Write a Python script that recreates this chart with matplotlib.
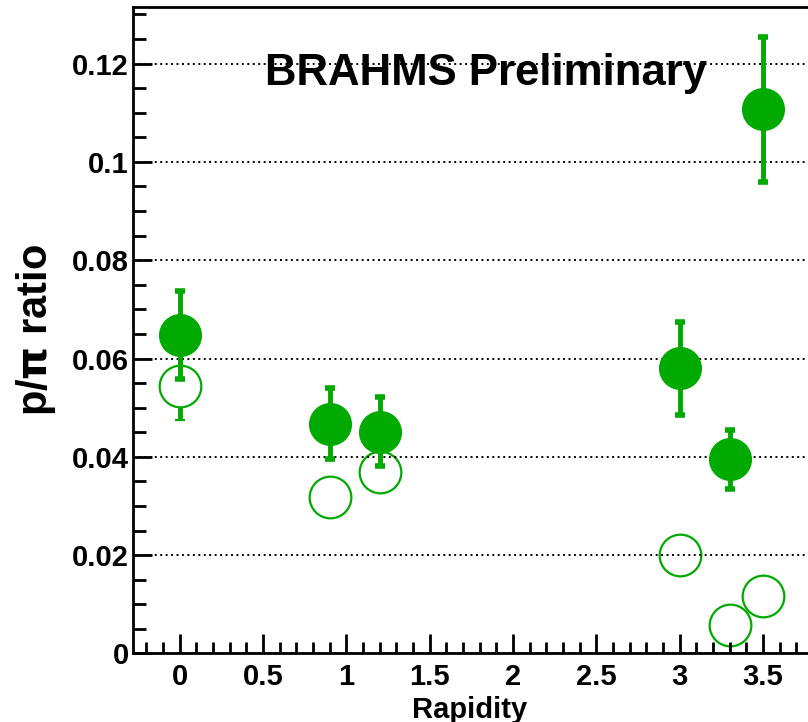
import matplotlib
matplotlib.use("Agg")
import matplotlib.pyplot as plt
from matplotlib.ticker import MultipleLocator, FormatStrFormatter

# p/pi ratio vs rapidity
rapidity = [0.0, 0.9, 1.2, 3.0, 3.3, 3.5]
ratio_full = [0.0648, 0.0467, 0.0451, 0.0580, 0.0395, 0.1107]
err_full = [0.0090, 0.0072, 0.0070, 0.0094, 0.0060, 0.0147]
ratio_open = [0.0544, 0.0318, 0.0369, 0.0200, 0.0058, 0.0116]
err_open = [0.0070, 0.0030, 0.0030, 0.0030, 0.0020, 0.0030]

green = "#00aa00"
plt.rcParams['font.family'] = ['Liberation Sans', 'DejaVu Sans']
plt.rcParams['font.weight'] = 'bold'

fig = plt.figure(figsize=(8.08, 7.22), dpi=100)
# frame runs past the right edge of the canvas
ax = fig.add_axes([0.1646, 0.0949, 0.8787, 0.8954])

# open points under the grid, filled ones above it
ax.errorbar(rapidity, ratio_open, yerr=err_open, fmt='o', color=green,
            markersize=30, markerfacecolor='white', markeredgecolor=green,
            markeredgewidth=1.6, elinewidth=3.5, capsize=3.5, capthick=4,
            zorder=1)
ax.errorbar(rapidity, ratio_full, yerr=err_full, fmt='o', color=green,
            markersize=30, markeredgecolor=green, elinewidth=3.5,
            capsize=3.5, capthick=4, zorder=3)

ax.set_xlim(-0.28, 3.98)
ax.set_ylim(0, 0.1315)
ax.set_axisbelow('line')
ax.yaxis.grid(True, color='black', linestyle=(0, (1, 1.8)), linewidth=1.4)

ax.xaxis.set_major_locator(MultipleLocator(0.5))
ax.xaxis.set_minor_locator(MultipleLocator(0.1))
ax.yaxis.set_major_locator(MultipleLocator(0.02))
ax.yaxis.set_minor_locator(MultipleLocator(0.005))
ax.xaxis.set_major_formatter(FormatStrFormatter('%g'))
ax.yaxis.set_major_formatter(FormatStrFormatter('%g'))

ax.tick_params(axis='both', which='both', direction='in', width=2,
               labelsize=21, top=False, right=False)
ax.tick_params(axis='x', which='major', length=14, pad=7)
ax.tick_params(axis='x', which='minor', length=8)
ax.tick_params(axis='y', which='major', length=14, pad=3)
ax.tick_params(axis='y', which='minor', length=9)

for side in ['left', 'bottom', 'top']:
    ax.spines[side].set_linewidth(2)
ax.spines['right'].set_visible(False)

ax.set_xlabel('Rapidity', fontsize=21, fontweight='bold')
ax.xaxis.set_label_coords((470 - 133) / 710, -0.065)
ax.set_ylabel(r'p/$\mathbf{\pi}$ ratio', fontsize=30, fontweight='bold')
ax.yaxis.set_label_coords(-0.105, 0.5)

ax.text(0.186, 0.879, 'BRAHMS Preliminary', transform=ax.transAxes,
        fontsize=31.5, fontweight='bold', ha='left', va='baseline', zorder=2)

fig.savefig('out.png', dpi=100)
